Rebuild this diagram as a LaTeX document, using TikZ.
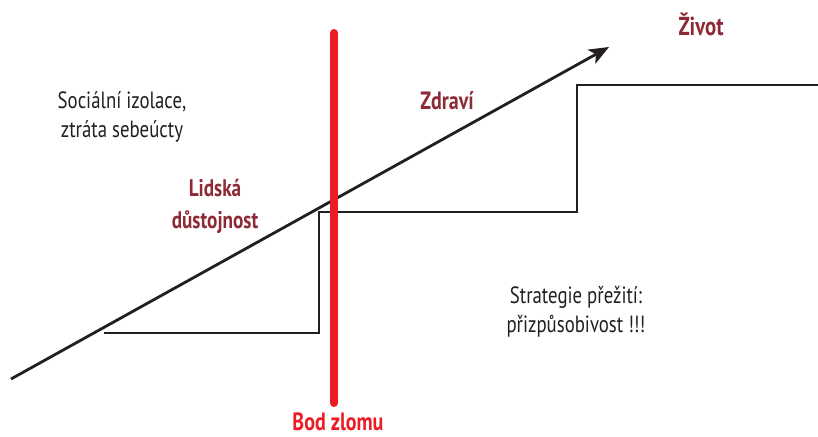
\documentclass[tikz,border=0pt]{standalone}
\usepackage{fontspec}
\setmainfont{PT Sans}[FakeStretch=0.8]
\usetikzlibrary{arrows.meta}
\definecolor{darkred}{HTML}{8E2A35}
\definecolor{barred}{HTML}{EC1C24}
\definecolor{ink}{HTML}{231F20}
\begin{document}
\begin{tikzpicture}[x=1pt,y=-1pt,
  lbl/.style={font=\fontsize{23.5}{29}\selectfont, text=ink, align=center, inner sep=0pt},
  hl/.style={font=\fontsize{24}{32}\selectfont\bfseries, text=darkred, align=center, inner sep=0pt},
  stepline/.style={draw=ink, line width=2.4pt},
  mainarrow/.style={draw=ink, line width=2.8pt, -{Stealth[length=20pt,width=16pt,inset=5pt]}}]
\useasboundingbox (0,0) rectangle (818,436);
\coordinate (s0) at (104,333);
\coordinate (s1) at (319,333);
\coordinate (s2) at (319,212);
\coordinate (s3) at (577,212);
\coordinate (s4) at (577,85);
\coordinate (s5) at (818,85);
\draw[stepline] (s0) -- (s1) -- (s2) -- (s3) -- (s4) -- (s5);
\coordinate (a0) at (11,379);
\coordinate (a1) at (609,47);
\draw[mainarrow] (a0) -- (a1);
\coordinate (b0) at (334,33);
\coordinate (b1) at (334,403);
\draw[barred, line width=8pt, line cap=round] (b0) -- (b1);
\node[lbl] (soc) at (122,117) {Sociální izolace,\\ztráta sebeúcty};
\node[hl] (lid) at (215,206) {Lidská\\důstojnost};
\node[hl, font=\fontsize{25}{32}\selectfont\bfseries] (zdr) at (447,101) {Zdraví};
\node[hl, font=\fontsize{26}{32}\selectfont\bfseries] (ziv) at (701,24) {Život};
\node[lbl] (str) at (576,312) {Strategie přežití:\\přizpůsobivost !!!};
\node[hl, text=barred, font=\fontsize{25}{32}\selectfont\bfseries, anchor=base] (bod) at (338,430) {Bod zlomu};
\end{tikzpicture}
\end{document}
